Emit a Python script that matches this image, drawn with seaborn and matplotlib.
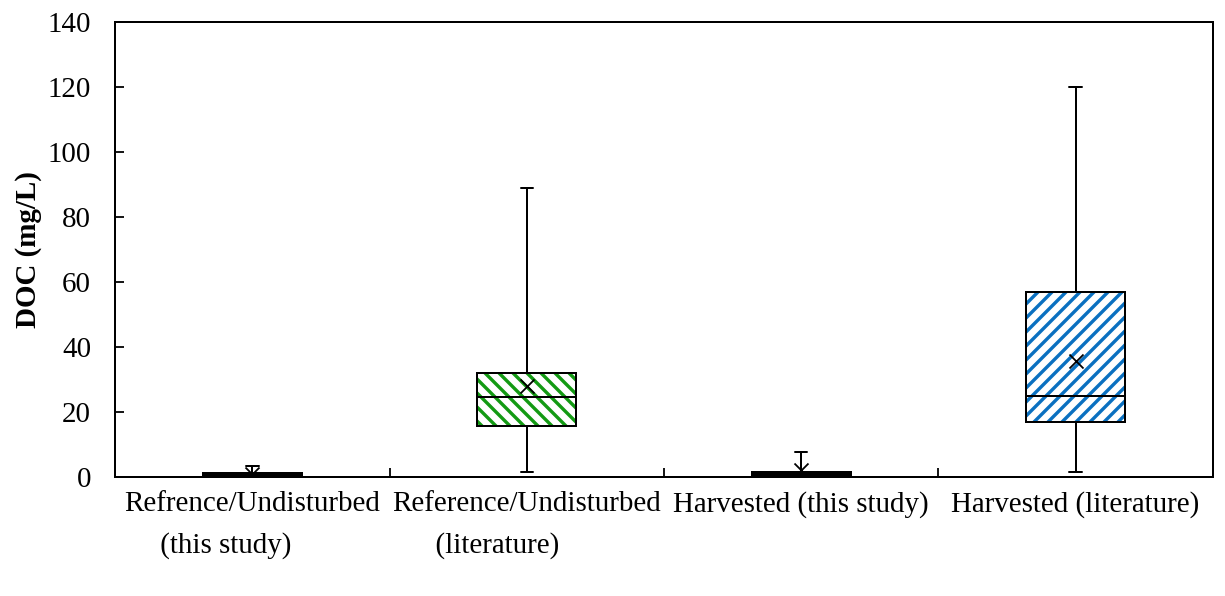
import numpy as np
import pandas as pd
import matplotlib
matplotlib.use("Agg")
import matplotlib.pyplot as plt
import matplotlib.patches as mpatches
import seaborn as sns

# ---- data ----
categories = [
    "Refrence/Undisturbed\n     (this study)",
    "Reference/Undisturbed\n      (literature)",
    "Harvested (this study)",
    "Harvested (literature)",
]
mins = [0.2, 1.5, 0.2, 1.5]
q1s = [0.3, 15.5, 0.5, 17.0]
medians = [0.8, 24.5, 1.0, 25.0]
q3s = [1.3, 32.0, 1.5, 57.0]
maxs = [3.2, 89.0, 7.5, 120.0]
means = [1.0, 28.0, 2.0, 35.5]
hatch_colors = [None, "#139a13", None, "#0a70c0"]
hatches = [None, "\\\\", None, "//"]
yticks = [0, 20, 40, 60, 80, 100, 120, 140]

rows = []
for c, a, b, m, d, e in zip(categories, mins, q1s, medians, q3s, maxs):
    for v in (a, b, m, d, e):
        rows.append({"cat": c, "DOC": v})
df = pd.DataFrame(rows)
mean_df = pd.DataFrame({"cat": categories, "mean": means})

DPI = 84


def px(p):
    return p * 72.0 / DPI


sns.set_style("white")
plt.rcParams["font.family"] = ["Liberation Serif", "DejaVu Serif"]
plt.rcParams["hatch.linewidth"] = px(3.4)
for key in ("text.color", "axes.labelcolor", "xtick.color", "ytick.color",
            "axes.edgecolor"):
    plt.rcParams[key] = "black"

fig = plt.figure(figsize=(1225 / DPI, 596 / DPI), dpi=DPI)
ax = fig.add_axes([0.094, 0.200, 0.896, 0.763])

lw = px(2.0)
FS = px(29)
sns.boxplot(
    data=df, x="cat", y="DOC", order=categories, ax=ax,
    whis=(0, 100), showfliers=False, width=0.36,
    color="white", linecolor="black", linewidth=lw,
    capwidths=0.045,
)

# hatch overlays on the boxes
box_patches = [p for p in ax.patches]
for i, p in enumerate(box_patches[:len(categories)]):
    p.set_facecolor("white")
    p.set_edgecolor("black")
    p.set_zorder(2)
    if hatches[i]:
        overlay = mpatches.PathPatch(
            p.get_path(), transform=p.get_transform(),
            facecolor="none", edgecolor=hatch_colors[i],
            hatch=hatches[i], linewidth=0, zorder=2.1,
        )
        ax.add_patch(overlay)
        border = mpatches.PathPatch(
            p.get_path(), transform=p.get_transform(),
            facecolor="none", edgecolor="black", linewidth=lw, zorder=2.2,
        )
        ax.add_patch(border)
for ln in ax.lines:
    ln.set_zorder(2.5)

sns.scatterplot(
    data=mean_df, x="cat", y="mean", ax=ax, marker="x",
    color="black", s=px(14) ** 2, linewidth=px(1.8), zorder=3, legend=False,
)

ax.set_ylim(0, 140)
ax.set_xlim(-0.5, len(categories) - 0.5)
ax.set_yticks(yticks)
ax.set_yticklabels([str(t) for t in yticks], fontsize=FS, color="black")
ax.tick_params(axis="y", direction="in", length=px(9), width=px(1.8),
               pad=px(24), left=True, colors="black")
ax.set_xticks(range(len(categories)))
ax.set_xticklabels(categories, fontsize=FS, ha="center", color="black",
                   multialignment="left", linespacing=1.75)
ax.tick_params(axis="x", which="major", length=0, pad=px(14))
ax.set_xticks([0.5, 1.5, 2.5], minor=True)
ax.tick_params(axis="x", which="minor", direction="in", length=px(9),
               width=px(1.8), bottom=True, colors="black")
ax.set_xlabel("")
ax.set_ylabel("DOC (mg/L)", fontsize=FS, fontweight="bold", labelpad=px(6),
              color="black")
for s in ax.spines.values():
    s.set_linewidth(px(2.0))
    s.set_color("black")
    s.set_visible(True)

fig.savefig("out.png", dpi=DPI)
